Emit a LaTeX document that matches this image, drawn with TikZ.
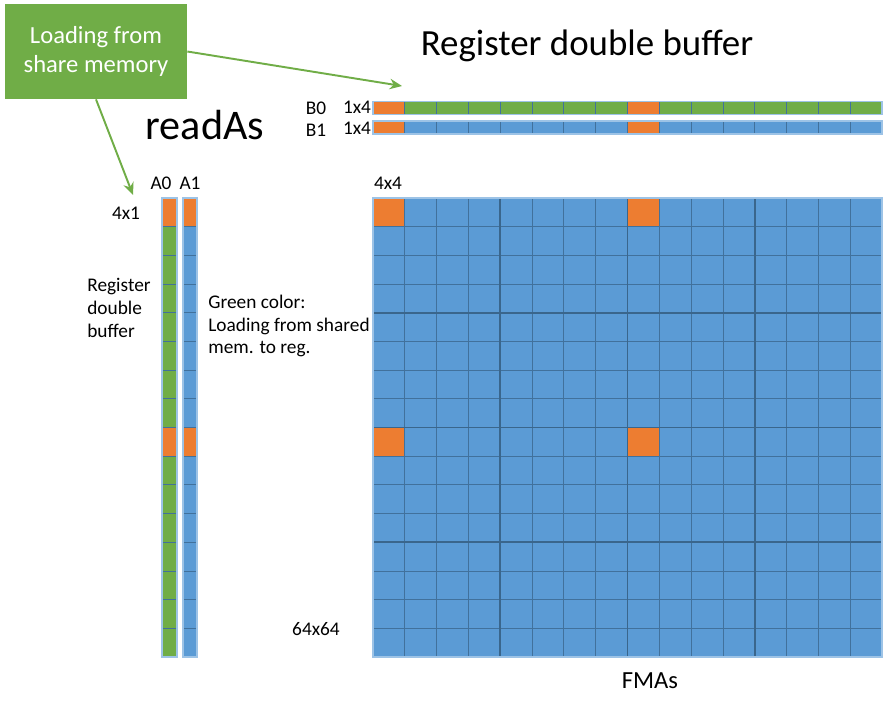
\documentclass[tikz,border=0pt]{standalone}
\usepackage{fontspec}
\setmainfont{Carlito}
\usepackage{tikz}
\usetikzlibrary{arrows.meta,positioning}
\definecolor{regorange}{HTML}{ED7D31}
\definecolor{reggreen}{HTML}{70AD47}
\definecolor{regblue}{HTML}{5B9BD5}
\definecolor{gridline}{HTML}{41719C}
\definecolor{rimblue}{HTML}{9DC3E6}
\tikzset{
  lbl/.style={font=\fontsize{11}{13}\selectfont,inner sep=0pt},
  cellline/.style={draw=gridline,line width=0.5pt},
  blockline/.style={draw=gridline!90!black,line width=0.9pt},
  loadarrow/.style={draw=reggreen,line width=1.1pt,-{Stealth[length=7pt,width=6pt]}}
}
\begin{document}
\begin{tikzpicture}[x=0.02cm,y=-0.02cm,=>stealth]
\useasboundingbox (0,0) rectangle (883,711);
% 64x64 grid of 4x4 blocks
\fill[regblue](373,198)rectangle(882,657);
\foreach \c/\r in {0/0,8/0,0/8,8/8}
  \fill[regorange]({373+\c*31.8125},{198+\r*28.6875})rectangle({373+(\c+1)*31.8125},{198+(\r+1)*28.6875});
\foreach \k in {1,...,15}{
  \draw[cellline]({373+\k*31.8125},198)--({373+\k*31.8125},657);
  \draw[cellline](373,{198+\k*28.6875})--(882,{198+\k*28.6875});
}
\foreach \k in {4,8,12}{
  \draw[blockline]({373+\k*31.8125},198)--({373+\k*31.8125},657);
  \draw[blockline](373,{198+\k*28.6875})--(882,{198+\k*28.6875});
}
\draw[rimblue,line width=0.6pt](373,198)rectangle(882,657);
% B0 / B1 rows
\fill[reggreen](373,101.5)rectangle(882,114.5);
\fill[regblue](373,121)rectangle(882,134);
\foreach \c in {0,8}{
  \fill[regorange]({373+\c*31.8125},101.5)rectangle({373+(\c+1)*31.8125},114.5);
  \fill[regorange]({373+\c*31.8125},121)rectangle({373+(\c+1)*31.8125},134);
}
\foreach \k in {1,...,15}{
  \draw[cellline]({373+\k*31.8125},101.5)--({373+\k*31.8125},114.5);
  \draw[cellline]({373+\k*31.8125},121)--({373+\k*31.8125},134);
}
\draw[rimblue,line width=0.6pt](373,101.5)rectangle(882,114.5) (373,121)rectangle(882,134);
% A0 / A1 columns
\fill[reggreen](162,198)rectangle(177,657);
\fill[regblue](183,198)rectangle(197,657);
\foreach \r in {0,8}{
  \fill[regorange](162,{198+\r*28.6875})rectangle(177,{198+(\r+1)*28.6875});
  \fill[regorange](183,{198+\r*28.6875})rectangle(197,{198+(\r+1)*28.6875});
}
\foreach \k in {1,...,15}{
  \draw[cellline](162,{198+\k*28.6875})--(177,{198+\k*28.6875});
  \draw[cellline](183,{198+\k*28.6875})--(197,{198+\k*28.6875});
}
\draw[rimblue,line width=0.6pt](162,198)rectangle(177,657) (183,198)rectangle(197,657);
% labels
\node[font=\fontsize{21}{25}\selectfont,inner sep=0pt](title)at(587,46){Register double buffer};
\node[font=\fontsize{24}{28}\selectfont,inner sep=0pt](readas)at(205,125){readAs};
\node[lbl](bzero)at(316,108){B0};
\node[lbl](bone)at(316,130){B1};
\node[lbl](bzerosize)at(357,107){1x4};
\node[lbl](bonesize)at(357,128){1x4};
\node[lbl](azero)at(161,183){A0};
\node[lbl](aone)at(190,183){A1};
\node[lbl](asize)at(126,213){4x1};
\node[lbl](blocksize)at(388,183){4x4};
\node[lbl,align=left,anchor=west](regbuf)at(87,308){Register\\double\\buffer};
\node[lbl,align=left,anchor=west](greennote)at(208,326){Green color:\\Loading from shared\\mem. to reg.};
\node[lbl](tilesize)at(316,629){64x64};
\node[font=\fontsize{14}{17}\selectfont,inner sep=0pt](fmas)at(650,681){FMAs};
% loading box and arrows
\node[fill=reggreen,text=white,align=center,minimum width=3.64cm,minimum height=1.9cm,
  font=\fontsize{14}{17}\selectfont](loadbox)at(96,51.5){Loading from\\share memory};
\coordinate(btip)at(402,86);
\coordinate(atip)at(133,195);
\draw[loadarrow](loadbox.east)--(btip);
\draw[loadarrow](loadbox.south)--(atip);
\end{tikzpicture}
\end{document}
